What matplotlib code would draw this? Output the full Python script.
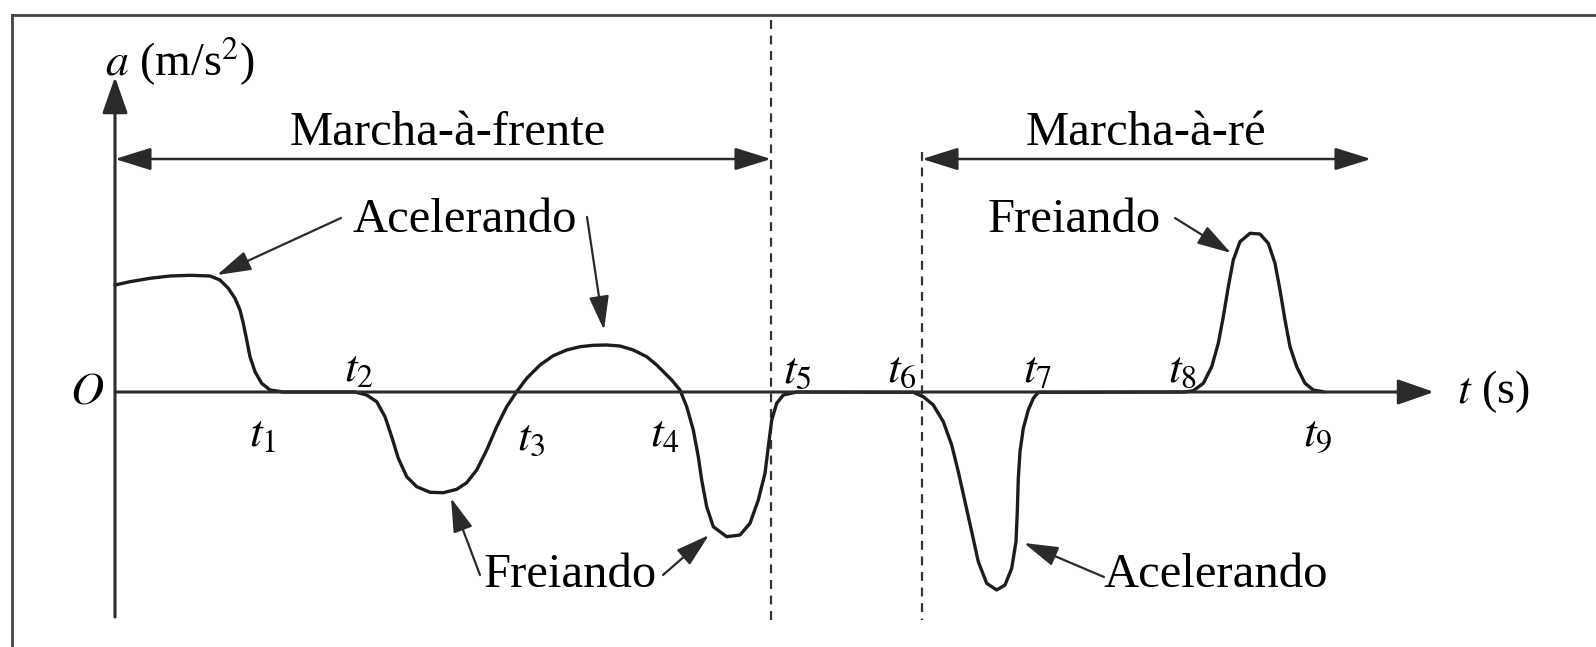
import matplotlib
matplotlib.use("Agg")
import matplotlib.pyplot as plt
from matplotlib.lines import Line2D

plt.rcParams["font.family"] = ["Liberation Serif", "DejaVu Serif"]
plt.rcParams["mathtext.fontset"] = "stix"

# curva a(t) (unidades arbitrarias)
tempo = [0, 1.5, 3.5, 5.5, 7.5, 9.5, 10.5, 11.33, 12.0, 12.5, 12.83, 13.17,
         13.5, 14.0, 14.67, 15.5, 16.83, 24.0,
         25.17, 26.17, 27.0, 27.67, 28.33, 29.17, 30.17, 31.5, 32.83, 34.17,
         35.17, 36.17, 37.17, 38.17, 39.17, 40.17, 41.17, 42.5, 43.83, 45.17,
         46.5, 47.83, 49.17, 50.5, 51.83, 53.17, 54.17,
         55.67, 56.5, 57.17, 57.83, 58.33, 58.67, 59.17, 59.83, 61.17, 62.5,
         63.5, 64.33, 65.0, 65.33, 65.67, 66.17, 66.83, 68.17,
         79.83, 80.83, 81.83, 82.83, 83.67, 84.33, 85.0, 85.67, 86.33, 87.17,
         88.17, 89.0, 89.67, 90.1, 90.23, 90.33, 90.5, 90.83, 91.33, 91.83,
         92.33, 107.0,
         107.83, 108.83, 109.67, 110.33, 110.83, 111.33, 111.83, 112.5, 113.5,
         114.5, 115.33, 116.0, 116.5, 117.0, 117.5, 118.17, 119.0, 119.83,
         120.83]
acel = [10.7, 11.03, 11.37, 11.6, 11.67, 11.6, 11.2, 10.37, 9.37, 8.2, 6.87,
        5.2, 3.53, 2.03, 0.87, 0.2, 0.0, 0.0,
        -0.3, -0.97, -2.47, -4.47, -6.63, -8.47, -9.47, -10.03, -10.07, -9.73,
        -9.07, -7.8, -5.8, -3.47, -1.47, 0.03, 1.37, 2.7, 3.63, 4.2,
        4.53, 4.67, 4.7, 4.6, 4.2, 3.53, 2.7,
        1.2, 0.2, -1.47, -3.8, -6.47, -8.8, -11.47, -13.47, -14.47, -14.3,
        -13.13, -10.8, -8.13, -5.47, -2.8, -1.13, -0.3, 0.0,
        -0.03, -0.47, -1.3, -2.97, -5.3, -7.97, -10.97, -13.97, -16.97, -19.13,
        -19.8, -19.3, -17.63, -14.97, -11.97, -8.63, -5.97, -3.63, -1.8, -0.63,
        -0.03, 0.0,
        0.13, 0.87, 2.53, 4.87, 7.53, 10.53, 13.2, 15.03, 15.87,
        15.8, 14.87, 12.87, 10.2, 7.2, 4.53, 2.53, 0.87, 0.2,
        0.03]

rotulos_t = [r"$t_1$", r"$t_2$", r"$t_3$", r"$t_4$", r"$t_5$",
             r"$t_6$", r"$t_7$", r"$t_8$", r"$t_9$"]
pos_rotulos = [(14.8, -4.3), (24.4, 2.2), (41.6, -4.7), (55.0, -4.3),
               (68.2, 2.0), (78.7, 2.1), (92.3, 2.1), (106.8, 2.1),
               (120.3, -4.3)]

frente = (0.0, 65.6)   # marcha-a-frente
re = (80.7, 125.6)     # marcha-a-re

fig = plt.figure(figsize=(15.96, 6.47), dpi=100)
ax = fig.add_axes([0, 0, 1, 1])
ax.set_xlim(-11.5, 148.1)
ax.set_ylim(-25.5, 39.2)
ax.axis("off")

cor = "#1c1c1c"
seta_eixo = dict(arrowstyle="-|>,head_length=0.8,head_width=0.28",
                 mutation_scale=28, color="#2a2a2a", lw=2.2,
                 shrinkA=0, shrinkB=0)
seta_nota = dict(arrowstyle="-|>,head_length=0.75,head_width=0.22",
                 mutation_scale=28, color="#2a2a2a", lw=1.6,
                 shrinkA=0, shrinkB=0)
seta_dupla = dict(arrowstyle="<|-|>,head_length=0.8,head_width=0.25",
                  mutation_scale=28, color="#2a2a2a", lw=1.8,
                  shrinkA=0, shrinkB=0)

# eixos
ax.annotate("", xy=(131.9, 0), xytext=(0, 0), arrowprops=seta_eixo)
ax.annotate("", xy=(0, 31.5), xytext=(0, -22.5), arrowprops=seta_eixo)
ax.text(-2.8, 0, "$O$", fontsize=33, ha="center", va="center")
ax.text(137.8, 0, r"$t$ (s)", fontsize=33, ha="center", va="center")
ax.text(-1.0, 33.0, r"$a$ (m/s$^{2}$)", fontsize=33, ha="left", va="center")

# linhas tracejadas
ax.plot([frente[1], frente[1]], [37.2, -22.8], ls=(0, (4, 3)), lw=1.6, color="#333333")
ax.plot([re[0], re[0]], [24.0, -22.8], ls=(0, (4, 3)), lw=1.6, color="#333333")

# setas duplas
ax.annotate("", xy=(frente[1], 23.3), xytext=(frente[0], 23.3), arrowprops=seta_dupla)
ax.annotate("", xy=(re[1], 23.3), xytext=(re[0], 23.3), arrowprops=seta_dupla)
ax.text(33.3, 25.9, "Marcha-à-frente", fontsize=35, ha="center", va="center")
ax.text(103.1, 25.9, "Marcha-à-ré", fontsize=35, ha="center", va="center")

# curva
ax.plot(tempo, acel, color=cor, lw=2.4, solid_capstyle="round", solid_joinstyle="round")

for txt, (x, y) in zip(rotulos_t, pos_rotulos):
    ax.text(x, y, txt, fontsize=33, ha="center", va="center")

# anotacoes
ax.text(35.0, 17.2, "Acelerando", fontsize=35, ha="center", va="center")
ax.annotate("", xy=(10.2, 11.7), xytext=(22.6, 17.4), arrowprops=seta_nota)
ax.annotate("", xy=(48.9, 6.2), xytext=(47.2, 17.5), arrowprops=seta_nota)

ax.text(95.9, 17.2, "Freiando", fontsize=35, ha="center", va="center")
ax.annotate("", xy=(111.6, 13.9), xytext=(106.0, 17.4), arrowprops=seta_nota)

ax.text(45.5, -18.3, "Freiando", fontsize=35, ha="center", va="center")
ax.annotate("", xy=(33.6, -10.6), xytext=(36.5, -18.3), arrowprops=seta_nota)
ax.annotate("", xy=(59.4, -14.3), xytext=(54.8, -18.3), arrowprops=seta_nota)

ax.text(110.1, -18.3, "Acelerando", fontsize=35, ha="center", va="center")
ax.annotate("", xy=(90.9, -15.1), xytext=(98.9, -18.5), arrowprops=seta_nota)

# moldura
fig.add_artist(Line2D([12 / 1596, 1], [1 - 15 / 647, 1 - 15 / 647], color="#444444", lw=2))
fig.add_artist(Line2D([12 / 1596, 12 / 1596], [0, 1 - 15 / 647], color="#444444", lw=2))

fig.savefig("out.png", dpi=100)
